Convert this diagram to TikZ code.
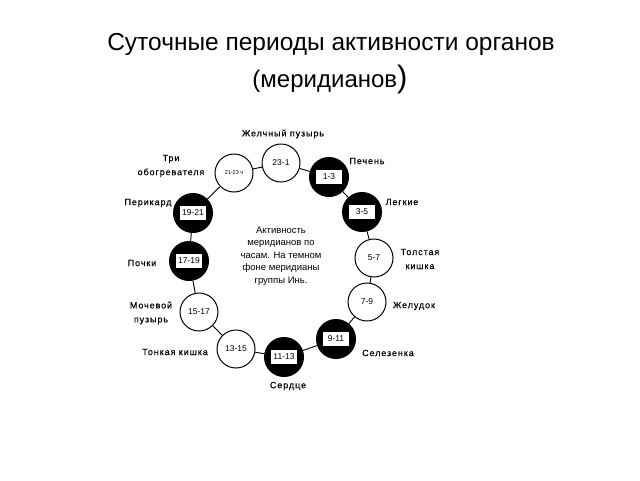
\documentclass[tikz,border=0pt]{standalone}
\usepackage{fontspec}
\setmainfont{Liberation Sans}
\newfontfamily\lblfont[LetterSpace=10,FakeBold=0.4]{Liberation Sans}
\begin{document}
\begin{tikzpicture}[x=1pt,y=-1pt,
  wh/.style={circle,draw,line width=1pt,fill=white,minimum size=38pt,inner sep=0pt,font=\fontsize{8.5}{9}\selectfont},
  bk/.style={circle,draw,line width=1pt,fill=black,minimum size=39pt,inner sep=0pt},
  tag/.style={draw,fill=white,line width=1.2pt,minimum width=27pt,minimum height=15pt,inner sep=0pt,font=\fontsize{8.5}{9}\selectfont},
  lbl/.style={font=\lblfont\fontsize{9}{14}\selectfont,align=center},
  link/.style={line width=0.9pt}]
\useasboundingbox (0,0) rectangle (640,480);
\node[font=\fontsize{24.5}{28}\selectfont,anchor=base] (title) at (331,50) {Суточные периоды активности органов};
\node[font=\fontsize{24}{28}\selectfont,anchor=base] (title2) at (330,87) {(меридианов{\fontsize{31}{31}\selectfont)}};
% circles
\node[wh] (c23) at (281,163) {23-1};
\node[bk] (c1) at (329,177) {};
\node[bk] (c3) at (362,212) {};
\node[wh] (c5) at (374,258) {5-7};
\node[wh] (c7) at (367,302) {7-9};
\node[bk] (c9) at (336,339) {};
\node[bk] (c11) at (284,357) {};
\node[wh] (c13) at (236,349) {13-15};
\node[wh] (c15) at (199,312) {15-17};
\node[bk] (c17) at (189,261) {};
\node[bk] (c19) at (193,213) {};
\node[wh,font=\fontsize{5.5}{6}\selectfont] (c21) at (234,173) {21-23 ч};
% tags
\node[tag] (t1) at (c1) {1-3};
\node[tag] (t3) at (c3) {3-5};
\node[tag] (t9) at (c9) {9-11};
\node[tag] (t11) at (c11) {11-13};
\node[tag] (t17) at (c17) {17-19};
\node[tag] (t19) at (c19) {19-21};
% links
\draw[link] (c23) -- (c1);
\draw[link] (c1) -- (c3);
\draw[link] (c3) -- (c5);
\draw[link] (c5) -- (c7);
\draw[link] (c7) -- (c9);
\draw[link] (c9) -- (c11);
\draw[link] (c11) -- (c13);
\draw[link] (c13) -- (c15);
\draw[link] (c15) -- (c17);
\draw[link] (c17) -- (c19);
\draw[link] (c19) -- (c21);
\draw[link] (c21) -- (c23);
% labels
\node[lbl] (l23) at (283,134) {Желчный пузырь};
\node[lbl] (l21) at (171,166) {Три\\обогревателя};
\node[lbl] (l19) at (148,203) {Перикард};
\node[lbl] (l17) at (142,263) {Почки};
\node[lbl] (l15) at (151,313) {Мочевой\\пузырь};
\node[lbl] (l13) at (175,352) {Тонкая кишка};
\node[lbl] (l11) at (288,386) {Сердце};
\node[lbl] (l9) at (388,353) {Селезенка};
\node[lbl] (l7) at (414,306) {Желудок};
\node[lbl] (l5) at (420,259) {Толстая\\кишка};
\node[lbl] (l3) at (402,202) {Легкие};
\node[lbl] (l1) at (367,161) {Печень};
\node[font=\fontsize{9.5}{12.5}\selectfont,align=center] (ctr) at (281,256) {Активность\\меридианов по\\часам. На темном\\фоне меридианы\\группы Инь.};
\end{tikzpicture}
\end{document}
